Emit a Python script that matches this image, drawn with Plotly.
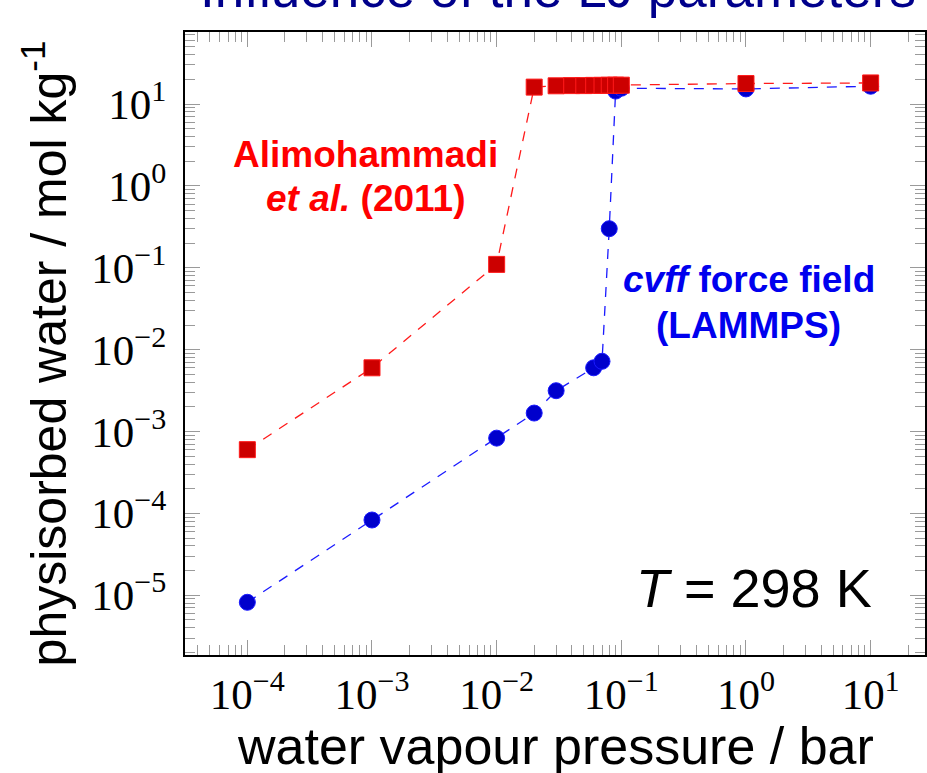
import plotly.graph_objects as go

# Alimohammadi et al. (2011) reference isotherm
ref_pressure = [1e-4, 1e-3, 1e-2, 0.02, 0.03, 0.04, 0.05, 0.06, 0.07, 0.08, 0.09, 0.1, 1.0, 10.0]
ref_uptake = [6.0e-4, 6.0e-3, 0.11, 16.1, 16.7, 16.8, 16.8, 16.9, 16.9, 17.0, 17.0, 17.0, 17.8, 18.1]

# cvff force field (LAMMPS) simulated isotherm
sim_pressure = [1e-4, 1e-3, 1e-2, 0.02, 0.03, 0.06, 0.07, 0.08, 0.09, 0.1, 1.0, 10.0]
sim_uptake = [8.2e-6, 8.3e-5, 8.3e-4, 1.68e-3, 3.15e-3, 6.0e-3, 7.2e-3, 0.30, 14.4, 15.6, 15.3, 16.5]

x_major = [1e-4, 1e-3, 1e-2, 1e-1, 1e0, 1e1]
x_labels = ["10<sup>\u22124</sup>", "10<sup>\u22123</sup>", "10<sup>\u22122</sup>",
            "10<sup>\u22121</sup>", "10<sup>0</sup>", "10<sup>1</sup>"]
y_major = [1e-5, 1e-4, 1e-3, 1e-2, 1e-1, 1e0, 1e1]
y_labels = ["10<sup>\u22125</sup>", "10<sup>\u22124</sup>", "10<sup>\u22123</sup>",
            "10<sup>\u22122</sup>", "10<sup>\u22121</sup>", "10<sup>0</sup>", "10<sup>1</sup>"]

W, H = 927, 773
L, R, T, B = 185, 0, 32, 118
pw, ph = W - L - R, H - T - B
X_RANGE = [-4.5, -4.5 + pw / 125.0]
Y_RANGE = [-5.73, 1.88]


def px(x):
    return (x - L) / pw


def py(y):
    return (H - B - y) / ph


def minor_vals(lo, hi):
    return [k * 10.0 ** e for e in range(lo, hi) for k in range(2, 10)]


RED_LINE, RED_FILL = "#FF1a1a", "#CC0000"
BLUE_LINE, BLUE_FILL = "#1a1aFF", "#0000CC"
TICK_GREY = "#9a9a9a"
SANS = "Liberation Sans, Arial, sans-serif"
SERIF = "Liberation Serif, Times New Roman, serif"

fig = go.Figure()
fig.add_trace(go.Scatter(
    x=sim_pressure, y=sim_uptake, mode="lines+markers",
    line=dict(color=BLUE_LINE, width=1.3, dash="10px,9px"),
    marker=dict(symbol="circle", size=16, color=BLUE_FILL,
                line=dict(color=BLUE_LINE, width=1)),
    showlegend=False))
fig.add_trace(go.Scatter(
    x=ref_pressure, y=ref_uptake, mode="lines+markers",
    line=dict(color=RED_LINE, width=1.3, dash="10px,9px"),
    marker=dict(symbol="square", size=16, color=RED_FILL,
                line=dict(color=RED_LINE, width=1)),
    showlegend=False))
# empty trace that carries the top/right tick axes
fig.add_trace(go.Scatter(x=[], y=[], xaxis="x2", yaxis="y2",
                         showlegend=False, hoverinfo="skip"))

tick_common = dict(
    type="log", showgrid=False, zeroline=False,
    ticks="inside", ticklen=15, tickwidth=1, tickcolor=TICK_GREY,
    tickfont=dict(family=SERIF, size=43, color="black"),
)
minor_x = dict(ticks="inside", ticklen=10, tickwidth=1, tickcolor=TICK_GREY,
               tickmode="array", tickvals=minor_vals(-5, 2), showgrid=False)
minor_y = dict(ticks="inside", ticklen=10, tickwidth=1, tickcolor=TICK_GREY,
               tickmode="array", tickvals=minor_vals(-6, 2), showgrid=False)

fig.update_layout(
    xaxis=dict(**tick_common, range=X_RANGE, showline=True, linecolor="black",
               linewidth=2, mirror=True, tickmode="array", tickvals=x_major,
               ticktext=x_labels, ticklabelstandoff=0, minor=minor_x),
    yaxis=dict(**tick_common, range=Y_RANGE, showline=True, linecolor="black",
               linewidth=2, mirror=True, tickmode="array", tickvals=y_major,
               ticktext=y_labels, ticklabelstandoff=8, minor=minor_y),
    xaxis2=dict(**tick_common, range=X_RANGE, overlaying="x", side="top",
                anchor="y2", showline=False, showticklabels=False,
                tickmode="array", tickvals=x_major, minor=minor_x),
    yaxis2=dict(**tick_common, range=Y_RANGE, overlaying="y", side="right",
                anchor="x2", showline=False, showticklabels=False,
                tickmode="array", tickvals=y_major, minor=minor_y),
)

annotations = [
    dict(text="Influence of the LJ parameters", x=px(559), y=py(-12),
         font=dict(family=SANS, size=53, color="#00008B")),
    dict(text="water vapour pressure / bar", x=px(557), y=py(746),
         font=dict(family=SANS, size=52, color="black")),
    dict(text="physisorbed water / mol kg<sup>-1</sup>", x=px(45), y=py(353),
         textangle=-90, font=dict(family=SANS, size=50, color="black")),
    dict(text="<b>Alimohammadi</b>", x=px(366), y=py(154),
         font=dict(family=SANS, size=37, color="#FF0000")),
    dict(text="<b><i>et al.</i> (2011)</b>", x=px(366), y=py(198),
         font=dict(family=SANS, size=37, color="#FF0000")),
    dict(text="<b><i>cvff</i> force field</b>", x=px(751), y=py(279),
         font=dict(family=SANS, size=37, color="#0000EE")),
    dict(text="<b>(LAMMPS)</b>", x=px(750), y=py(325),
         font=dict(family=SANS, size=37, color="#0000EE")),
    dict(text="<i>T</i> = 298 K", x=px(876), y=py(588), xanchor="right",
         font=dict(family=SANS, size=54, color="black")),
]
for a in annotations:
    a.setdefault("xanchor", "center")
    a.update(xref="paper", yref="paper", yanchor="middle", showarrow=False)

fig.update_layout(
    annotations=annotations,
    width=W, height=H,
    margin=dict(l=L, r=R, t=T, b=B, pad=0),
    paper_bgcolor="white", plot_bgcolor="white",
)

fig.write_html("out.html")
